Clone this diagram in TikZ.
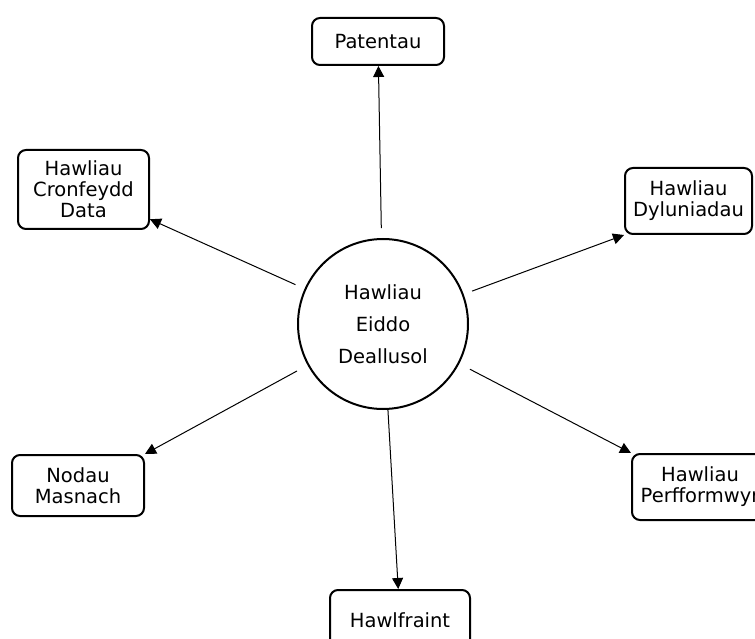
\documentclass[tikz,border=0pt]{standalone}
\usepackage{fontspec}
\setmainfont{DejaVu Sans}
\usetikzlibrary{arrows.meta, positioning}

\begin{document}
\begin{tikzpicture}[x=1pt, y=-1pt, >={Triangle[length=11pt,width=11pt]}, line width=1pt]
        \tikzset{
          hawlbox/.style={draw, line width=2pt, rounded corners=8pt, align=center, inner sep=2pt, font=\fontsize{19.5}{21}\selectfont},
          hubcircle/.style={draw, circle, line width=2pt, minimum size=170pt, inner sep=0pt, align=center, font=\fontsize{19.5}{32}\selectfont}
        }
        \useasboundingbox (0,0) rectangle (755,639);
        \clip (0,0) rectangle (755,639);

        % Central circle
        \node[hubcircle] (ip) at (383,324) {Hawliau\\Eiddo\\Deallusol};

        % Surrounding boxes
        \node[hawlbox, minimum width=132pt, minimum height=47pt] (pat) at (378,41.5) {Patentau};
        \node[hawlbox, minimum width=131pt, minimum height=79pt] (cron) at (83.5,189.5) {Hawliau\\Cronfeydd\\Data};
        \node[hawlbox, minimum width=127pt, minimum height=66pt] (dyl) at (688.5,201) {Hawliau\\Dyluniadau};
        \node[hawlbox, minimum width=132pt, minimum height=61pt] (nod) at (78,485.5) {Nodau\\Masnach};
        \node[hawlbox, minimum width=136pt, minimum height=66pt] (perf) at (700,487) {Hawliau\\Perfformwyr};
        \node[hawlbox, minimum width=140pt, minimum height=60pt] (hawl) at (400,620) {Hawlfraint};

        % Arrows
        \draw[->, shorten <=10pt] (ip) -- (pat);
        \draw[->, shorten <=10pt] (ip) -- (cron);
        \draw[->, shorten <=9pt] (ip) -- (dyl.south west);
        \draw[->, shorten <=12pt] (ip) -- (nod.north east);
        \draw[->, shorten <=12pt] (ip) -- (perf.north west);
        \draw[->] (ip) -- (hawl);
\end{tikzpicture}
\end{document}
